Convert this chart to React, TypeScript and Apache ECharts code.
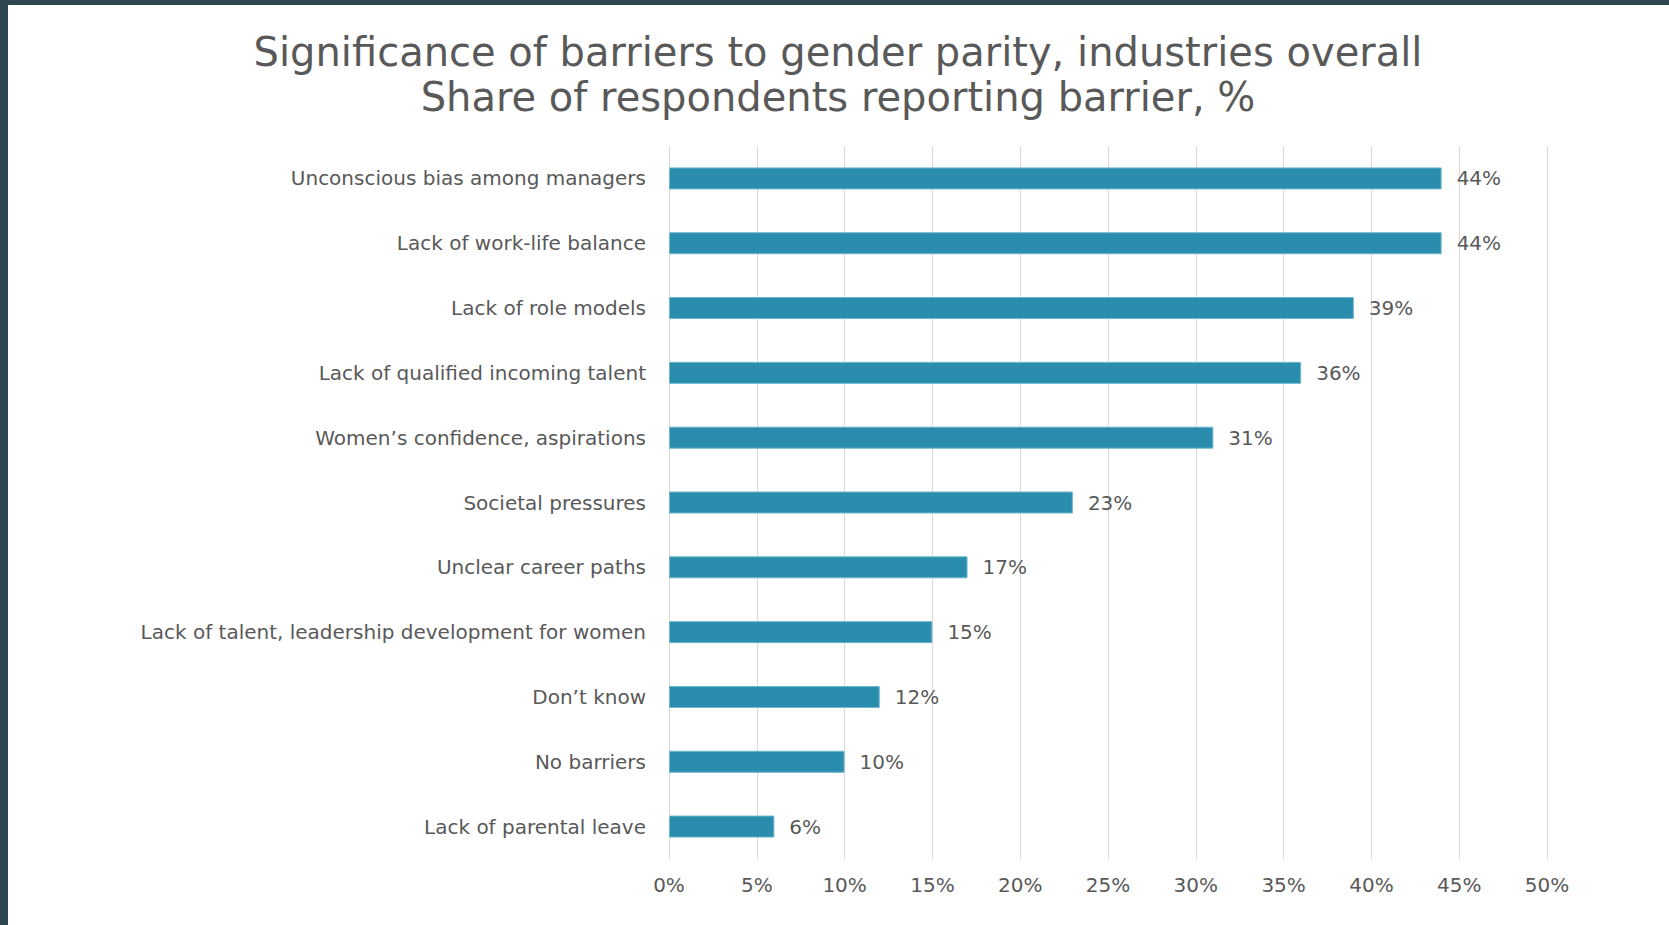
import React, { useEffect, useRef } from "react";
import * as echarts from "echarts";

const categories = [
  "Unconscious bias among managers",
  "Lack of work-life balance",
  "Lack of role models",
  "Lack of qualified incoming talent",
  "Women’s confidence, aspirations",
  "Societal pressures",
  "Unclear career paths",
  "Lack of talent, leadership development for women",
  "Don’t know",
  "No barriers",
  "Lack of parental leave",
];
const values = [44, 44, 39, 36, 31, 23, 17, 15, 12, 10, 6];
const titleLines = [
  "Significance of barriers to gender parity, industries overall",
  "Share of respondents reporting barrier, %",
];

const FONT = "DejaVu Sans, Verdana, sans-serif";
const GREY = "#595959";

export default function App() {
  const ref = useRef<HTMLDivElement>(null);
  useEffect(() => {
    if (!ref.current) return;
    const chart = echarts.init(ref.current, null, { renderer: "svg" });
    chart.setOption({
      animation: false,
      backgroundColor: "#ffffff",
      title: {
        text: titleLines.join("\n"),
        left: 833,
        top: 24,
        textAlign: "center",
        textStyle: {
          fontFamily: FONT,
          fontSize: 40,
          fontWeight: "normal",
          color: GREY,
          lineHeight: 45,
        },
      },
      grid: { left: 669, right: 122, top: 146, bottom: 66 },
      xAxis: {
        type: "value",
        min: 0,
        max: 50,
        interval: 5,
        axisLine: { show: false },
        axisTick: { show: false },
        splitLine: { show: true, lineStyle: { color: "#d9d9d9", width: 1 } },
        axisLabel: {
          formatter: "{value}%",
          fontFamily: FONT,
          fontSize: 20,
          color: GREY,
          margin: 16,
        },
      },
      yAxis: {
        type: "category",
        data: categories,
        inverse: true,
        axisLine: { show: true, lineStyle: { color: "#d9d9d9", width: 1 } },
        axisTick: { show: false },
        axisLabel: {
          fontFamily: FONT,
          fontSize: 20,
          color: GREY,
          margin: 23,
        },
      },
      series: [
        {
          type: "bar",
          data: values,
          barWidth: 22,
          itemStyle: { color: "#2a8dad", borderColor: "#6fb6cd", borderWidth: 1 },
          label: {
            show: true,
            position: "right",
            distance: 15,
            formatter: "{c}%",
            fontFamily: FONT,
            fontSize: 20,
            color: GREY,
          },
        },
      ],
    });
    return () => chart.dispose();
  }, []);
  return (
    <div style={{ position: "fixed", left: 0, top: 0, width: 1669, height: 925, background: "#fff" }}>
      <div ref={ref} style={{ position: "absolute", left: 0, top: 0, width: 1669, height: 925 }} />
      <div style={{ position: "absolute", left: 0, top: 0, width: 1669, height: 5, background: "#2d4650" }} />
      <div style={{ position: "absolute", left: 0, top: 0, width: 8, height: 925, background: "#2d4650" }} />
    </div>
  );
}
